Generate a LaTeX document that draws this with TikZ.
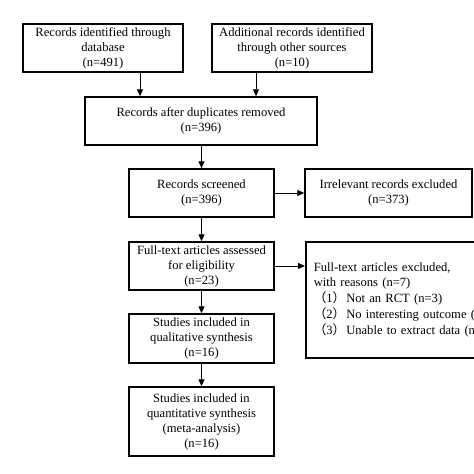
\documentclass[tikz,border=0pt]{standalone}
\usepackage{fontspec}
\setmainfont{Liberation Serif}
\newfontfamily\cjk{Noto Sans CJK SC}
\usetikzlibrary{shapes,arrows.meta,positioning}

\begin{document}
\begin{tikzpicture}[x=1pt, y=-1pt,
    box/.style={rectangle, draw=black, line width=1.5pt, fill=white,
                inner sep=2pt, align=center, font=\fontsize{12.6}{15}\selectfont},
    arrow/.style={-{Triangle[width=6pt,length=7pt]}, line width=0.9pt}
]
\useasboundingbox (0,0) rectangle (474,474);
\clip (0,0) rectangle (474,474);

\node[box, minimum width=160pt, minimum height=48pt] (database) at (103,48) {Records identified through\\database\\(n=491)};
\node[box, minimum width=160pt, minimum height=48pt] (other) at (292,48) {Additional records identified\\through other sources\\(n=10)};
\node[box, minimum width=232pt, minimum height=48pt] (dup) at (201,121) {Records after duplicates removed\\(n=396)};
\node[box, minimum width=145pt, minimum height=48pt] (screen) at (201.5,193) {Records screened\\(n=396)};
\node[box, minimum width=167pt, minimum height=48pt] (irrel) at (388.5,193) {Irrelevant records excluded\\(n=373)};
\node[box, minimum width=145pt, minimum height=48pt] (full) at (201.5,266) {Full-text articles assessed\\for eligibility\\(n=23)};
\node[box, anchor=west, minimum height=116pt, text width=200pt, inner xsep=8pt, align=left] (excl) at (305,300)
  {Full-text articles excluded,\\with reasons (n=7)\\[1pt]
   {\cjk （}1{\cjk ）}\hspace{1pt}Not an RCT (n=3)\\[1pt]
   {\cjk （}2{\cjk ）}\hspace{1pt}No interesting outcome (n\\[1pt]
   {\cjk （}3{\cjk ）}\hspace{1pt}Unable to extract data (n=};
\node[box, minimum width=145pt, minimum height=49pt] (qual) at (201.5,338.5) {Studies included in\\qualitative synthesis\\(n=16)};
\node[box, minimum width=145pt, minimum height=69pt] (quant) at (201.5,421.5) {Studies included in\\quantitative synthesis\\(meta-analysis)\\(n=16)};

\draw[arrow] ([xshift=-61pt]dup.north |- database.south) -- ([xshift=-61pt]dup.north);
\draw[arrow] ([xshift=55pt]dup.north |- other.south) -- ([xshift=55pt]dup.north);
\draw[arrow] (dup.south -| screen.north) -- (screen.north);
\draw[arrow] (screen) -- (irrel);
\draw[arrow] (screen) -- (full);
\draw[arrow] (full.east) -- (full.east -| excl.west);
\draw[arrow] (full) -- (qual);
\draw[arrow] (qual) -- (quant);

\end{tikzpicture}
\end{document}
